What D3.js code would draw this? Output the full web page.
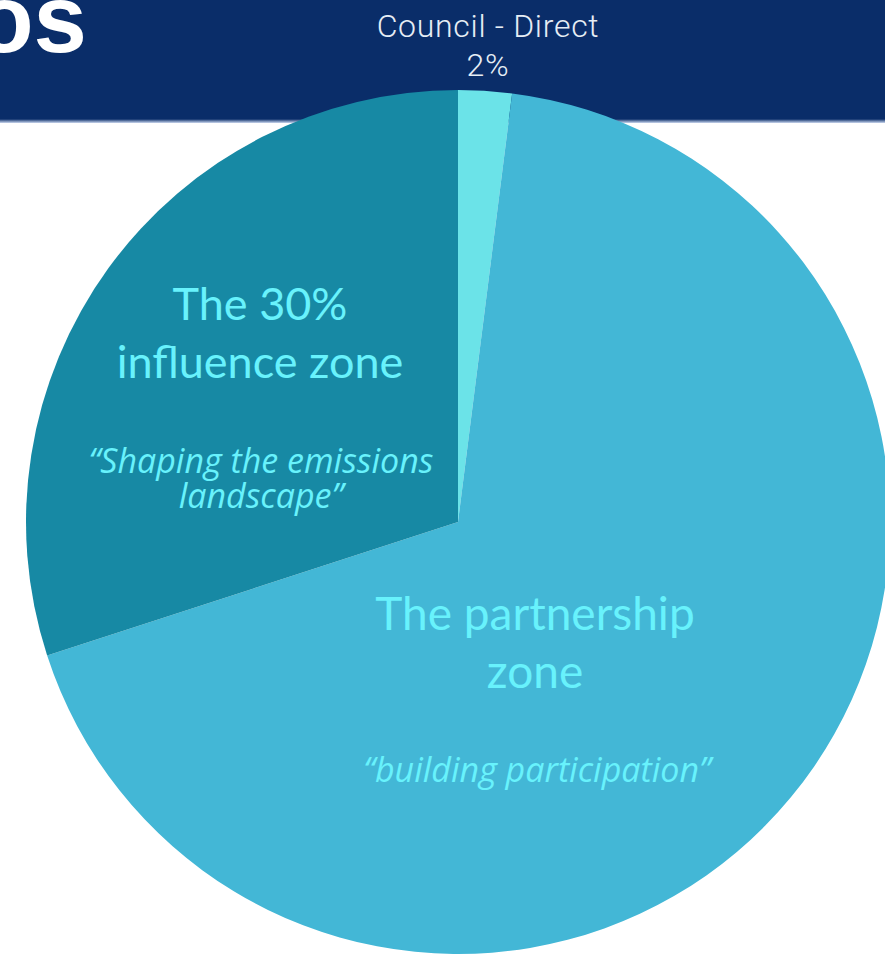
<!DOCTYPE html>
<html>
<head>
<meta charset="utf-8">
<script src="https://cdn.jsdelivr.net/npm/d3@7"></script>
<style>
html,body{margin:0;padding:0;background:#fff;}
svg{display:block;}
</style>
</head>
<body>
<svg id="chart" width="885" height="954"></svg>
<script>
// ---- data ----
const categories = ["Council - Direct", "The partnership zone", "The 30% influence zone"];
const values = [2, 68, 30];
const sliceColors = ["#6be3e8", "#43b7d6", "#1789a4"];
const topLabel = ["Council - Direct", "2%"];
const influenceTitle = ["The 30%", "influence zone"];
const influenceQuote = ["\u201CShaping the emissions", "landscape\u201D"];
const partnerTitle = ["The partnership", "zone"];
const partnerQuote = ["\u201Cbuilding participation\u201D"];
const headerTitle = "os";

const svg = d3.select("#chart");
const W = 885, H = 954;
const cx = 458, cy = 522, R = 432;

// header band
const defs = svg.append("defs");
const g1 = defs.append("linearGradient").attr("id","hdrEdge").attr("x1",0).attr("y1",0).attr("x2",0).attr("y2",1);
g1.append("stop").attr("offset","0%").attr("stop-color","#0a2d69");
g1.append("stop").attr("offset","100%").attr("stop-color","#c9d6ee");
svg.append("rect").attr("x",0).attr("y",0).attr("width",W).attr("height",120).attr("fill","#0a2d69");
svg.append("rect").attr("x",0).attr("y",119).attr("width",W).attr("height",4).attr("fill","url(#hdrEdge)");

svg.append("text")
  .attr("x", 87).attr("y", 52)
  .attr("text-anchor","end")
  .attr("font-family","'Liberation Sans', Arial, sans-serif")
  .attr("font-weight","bold")
  .attr("font-size", 96)
  .attr("fill","#ffffff")
  .text(headerTitle);

// pie
const pie = d3.pie().sort(null).value(d => d.v).startAngle(0).endAngle(2*Math.PI);
const data = categories.map((c,i) => ({c, v: values[i], col: sliceColors[i]}));
const arcs = pie(data);
const arc = d3.arc().innerRadius(0).outerRadius(R);

const g = svg.append("g").attr("transform", `translate(${cx},${cy})`);
g.selectAll("path").data(arcs).enter().append("path")
  .attr("d", arc)
  .attr("fill", d => d.data.col);

// top label (in header)
const tl = svg.append("text")
  .attr("font-family","Roboto, 'Noto Sans', sans-serif")
  .attr("font-weight", 300)
  .attr("font-size", 32)
  .attr("letter-spacing", 0.7)
  .attr("fill","#e6edf5")
  .attr("text-anchor","middle");
tl.append("tspan").attr("x", 488).attr("y", 37).text(topLabel[0]);
tl.append("tspan").attr("x", 488).attr("y", 76).text(topLabel[1]);

const textCol = "#68f2fc";
function block(lines, x, y0, dy, size, italic) {
  const t = svg.append("text")
    .attr("font-family", italic ? "'Open Sans', Lato, sans-serif" : "Lato, 'Open Sans', sans-serif")
    .attr("font-size", size)
    .attr("font-style", italic ? "italic" : "normal")
    .attr("fill", textCol)
    .attr("text-anchor","middle");
  lines.forEach((l,i) => t.append("tspan").attr("x", x).attr("y", y0 + i*dy).text(l));
}
block(influenceTitle, 260, 320, 58, 45, false);
block(influenceQuote, 261, 473, 35, 34, true);
block(partnerTitle, 535, 630, 58, 46, false);
block(partnerQuote, 537, 782, 35, 34, true);
</script>
</body>
</html>
